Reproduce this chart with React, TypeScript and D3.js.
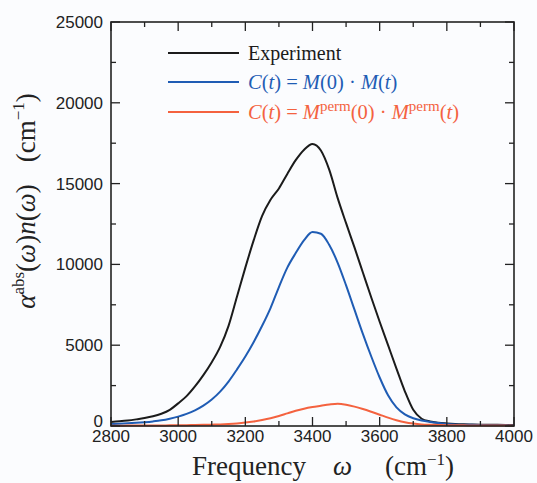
import React from 'react';
import * as d3 from 'd3';

const W = 537;
const H = 483;

// frequency grid (cm^-1), 25 cm^-1 steps
const freqs = d3.range(2800, 4001, 25);

const experiment = [
  250, 290, 340, 410, 490, 600, 760, 1000, 1400, 1850, 2450, 3150,
  3950, 4900, 6200, 8000, 9800, 11500, 13000, 14000, 14700, 15600, 16450, 17100,
  17450, 17050, 15850, 14100, 12550, 11050, 9500, 7950, 6450, 5000, 3550, 2150,
  1000, 450, 280, 200, 160, 130, 110, 95, 85, 75, 70, 65,
  60,
];

const dipole = [
  120, 140, 165, 195, 235, 285, 350, 450, 580, 750, 970, 1260,
  1640, 2130, 2750, 3500, 4300, 5200, 6200, 7300, 8600, 9800, 10700, 11500,
  12000, 11900, 11200, 10100, 8700, 7200, 5700, 4300, 3000, 1900, 1150, 720,
  480, 340, 250, 180, 130, 100, 80, 70, 60, 50, 45, 40,
  35,
];

const dipolePerm = [
  20, 20, 25, 25, 30, 30, 35, 40, 45, 50, 60, 70,
  85, 100, 125, 160, 210, 280, 370, 480, 620, 780, 940, 1070,
  1170, 1250, 1330, 1380, 1320, 1200, 1050, 880, 700, 520, 360, 230,
  150, 100, 75, 60, 50, 45, 40, 35, 30, 30, 25, 25,
  20,
];

const xTicks = [2800, 3000, 3200, 3400, 3600, 3800, 4000];
const yTicks = [0, 5000, 10000, 15000, 20000, 25000];

const colors = { exp: '#1b1b1b', blue: '#1f5cb4', orange: '#f4623f' };

const serif = '"Liberation Serif", "DejaVu Serif", serif';
const sans = '"Liberation Sans", Arial, sans-serif';

const left = 111;
const right = 514;
const top = 22;
const bottom = 426;

const App = () => {
  const x = d3.scaleLinear().domain([2800, 4000]).range([left, right]);
  const y = d3.scaleLinear().domain([0, 25000]).range([bottom, top]);

  const line = d3
    .line<number>()
    .x((d, i) => x(freqs[i]))
    .y(d => y(d))
    .curve(d3.curveMonotoneX);

  const xMinor = d3.range(2800, 4001, 100);
  const yMinor = d3.range(0, 25001, 2500);

  const series = [
    { data: experiment, color: colors.exp },
    { data: dipole, color: colors.blue },
    { data: dipolePerm, color: colors.orange },
  ];

  const legendX0 = 168;
  const legendX1 = 239;
  const legendTx = 248;

  return (
    <svg
      width={W}
      height={H}
      style={{ position: 'absolute', left: 0, top: 0, background: '#fbfcfe' }}
    >
      {/* curves */}
      <g fill="none" strokeWidth={2}>
        {series.map((s, i) => (
          <path key={i} d={line(s.data) || ''} stroke={s.color} />
        ))}
      </g>

      {/* ticks, mirrored on all sides */}
      <g stroke="#222" strokeWidth={1.3}>
        {xMinor.map(v => {
          const major = v % 200 === 0;
          const len = major ? 9 : 5;
          return (
            <g key={'x' + v}>
              <line x1={x(v)} x2={x(v)} y1={bottom} y2={bottom - len} />
              <line x1={x(v)} x2={x(v)} y1={top} y2={top + len} />
            </g>
          );
        })}
        {yMinor.map(v => {
          const major = v % 5000 === 0;
          const len = major ? 9 : 5;
          return (
            <g key={'y' + v}>
              <line x1={left} x2={left + len} y1={y(v)} y2={y(v)} />
              <line x1={right} x2={right - len} y1={y(v)} y2={y(v)} />
            </g>
          );
        })}
      </g>

      {/* frame */}
      <rect
        x={left}
        y={top}
        width={right - left}
        height={bottom - top}
        fill="none"
        stroke="#222"
        strokeWidth={1.6}
      />

      {/* tick labels */}
      <g fontFamily={sans} fontSize={17} fill="#222">
        {xTicks.map(v => (
          <text key={v} x={x(v)} y={442} textAnchor="middle">
            {v}
          </text>
        ))}
        {yTicks.map(v => (
          <text key={v} x={103} y={y(v) + (v === 0 ? 1 : 6)} textAnchor="end">
            {v}
          </text>
        ))}
      </g>

      {/* x title */}
      <text x={192} y={475} fontFamily={serif} fontSize={27} fill="#222">
        Frequency
        <tspan x={333} fontStyle="italic">ω</tspan>
        <tspan x={385}>(cm</tspan>
        <tspan dy={-10} fontSize={17}>−1</tspan>
        <tspan dy={10}>)</tspan>
      </text>

      {/* y title */}
      <text
        transform="translate(35,201) rotate(-90)"
        textAnchor="middle"
        fontFamily={serif}
        fontSize={27}
        fill="#222"
      >
        <tspan fontStyle="italic">α</tspan>
        <tspan dy={-11} fontSize={17}>abs</tspan>
        <tspan dy={11}>(</tspan>
        <tspan fontStyle="italic">ω</tspan>
        <tspan>)</tspan>
        <tspan fontStyle="italic">n</tspan>
        <tspan>(</tspan>
        <tspan fontStyle="italic">ω</tspan>
        <tspan>)</tspan>
        <tspan dx={22}>(cm</tspan>
        <tspan dy={-11} fontSize={17}>−1</tspan>
        <tspan dy={11}>)</tspan>
      </text>

      {/* legend */}
      <g strokeWidth={2}>
        <line x1={legendX0} x2={legendX1} y1={53} y2={53} stroke={colors.exp} />
        <line x1={legendX0} x2={legendX1} y1={82} y2={82} stroke={colors.blue} />
        <line x1={legendX0} x2={legendX1} y1={112} y2={112} stroke={colors.orange} />
      </g>
      <g fontFamily={serif} fontSize={20.5}>
        <text x={legendTx} y={60} fill={colors.exp} fontSize={20}>
          Experiment
        </text>
        <text x={legendTx} y={89} fill={colors.blue}>
          <tspan fontStyle="italic">C</tspan>(<tspan fontStyle="italic">t</tspan>) = <tspan fontStyle="italic">M</tspan>(0) · <tspan fontStyle="italic">M</tspan>(<tspan fontStyle="italic">t</tspan>)
        </text>
        <text x={legendTx} y={119} fill={colors.orange}>
          <tspan fontStyle="italic">C</tspan>(<tspan fontStyle="italic">t</tspan>) = <tspan fontStyle="italic">M</tspan>
          <tspan dy={-8} fontSize={15}>perm</tspan>
          <tspan dy={8}>(0) · </tspan>
          <tspan fontStyle="italic">M</tspan>
          <tspan dy={-8} fontSize={15}>perm</tspan>
          <tspan dy={8}>(</tspan>
          <tspan fontStyle="italic">t</tspan>)
        </text>
      </g>
    </svg>
  );
};

export default App;
